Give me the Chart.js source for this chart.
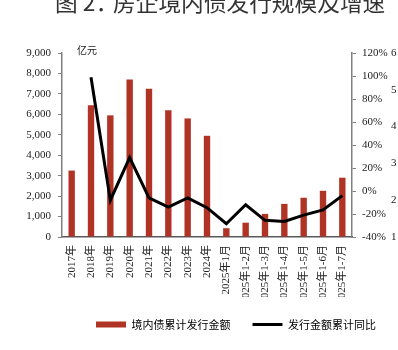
<!DOCTYPE html>
<html>
<head>
<meta charset="utf-8">
<script src="https://cdn.jsdelivr.net/npm/chart.js@4"></script>
<style>
  html, body { margin: 0; padding: 0; background: #fff; }
  #wrap { position: relative; width: 398px; height: 350px; overflow: hidden; }
  #title {
    position: absolute; left: 55px; top: -10px; white-space: nowrap;
    font-family: "Noto Sans CJK SC", sans-serif; font-size: 22.7px; line-height: 24px;
    color: #333;
  }
  #title .colon { margin-right: -5px; }
  #unit {
    position: absolute; left: 77px; top: 44px;
    font-family: "Noto Sans CJK SC", sans-serif; font-size: 10px; line-height: 12px;
    color: #222;
  }
</style>
</head>
<body>
<div id="wrap">
  <canvas id="chart" width="398" height="350"></canvas>
  <div id="title">图 2<span class="colon">：</span>房企境内债发行规模及增速</div>
  <div id="unit">亿元</div>
</div>
<script>
const categories = [
  "2017年", "2018年", "2019年", "2020年", "2021年", "2022年", "2023年", "2024年",
  "2025年1月", "2025年1-2月", "2025年1-3月", "2025年1-4月", "2025年1-5月",
  "2025年1-6月", "2025年1-7月"
];
// 境内债累计发行金额（亿元）
const issueAmount = [3250, 6450, 5950, 7700, 7250, 6200, 5800, 4950, 430, 700, 1130, 1620, 1920, 2260, 2900];
// 发行金额累计同比（%）
const issueYoY = [null, 99, -8, 29, -6, -14, -6, -14.5, -28.5, -12, -25.5, -26.5, -21, -16.5, -4];

const serif = "'Liberation Serif', 'Noto Sans CJK SC', serif";
const axisGray = "#808080";

const chart = new Chart(document.getElementById("chart"), {
  type: "bar",
  data: {
    labels: categories,
    datasets: [
      {
        type: "line",
        label: "发行金额累计同比",
        data: issueYoY,
        yAxisID: "y2",
        borderColor: "#000",
        backgroundColor: "#000",
        borderWidth: 3,
        pointRadius: 0,
        tension: 0,
        order: 0,
      },
      {
        type: "bar",
        label: "境内债累计发行金额",
        data: issueAmount,
        yAxisID: "y",
        backgroundColor: "#b03426",
        categoryPercentage: 1,
        barPercentage: 0.33,
        order: 1,
      },
    ],
  },
  options: {
    responsive: false,
    animation: false,
    layout: { padding: { top: 53, left: 0, right: 0, bottom: 10 } },
    plugins: {
      tooltip: { enabled: false },
      legend: {
        position: "bottom",
        align: "end",
        reverse: true,
        labels: {
          usePointStyle: true,
          pointStyleWidth: 30,
          boxHeight: 6,
          padding: 22,
          color: "#222",
          font: { family: "'Noto Sans CJK SC', sans-serif", size: 11 },
          generateLabels(c) {
            return c.data.datasets.map((ds, i) => ({
              text: ds.label,
              datasetIndex: i,
              fillStyle: ds.type === "line" ? "#000" : "#b03426",
              strokeStyle: ds.type === "line" ? "#000" : "#b03426",
              lineWidth: ds.type === "line" ? 3 : 0,
              pointStyle: ds.type === "line" ? "line" : "rect",
              hidden: false,
            }));
          },
        },
      },
    },
    scales: {
      x: {
        grid: { display: false, drawTicks: false },
        border: { color: "#595959", width: 1.5 },
        ticks: {
          autoSkip: false,
          maxRotation: 90,
          minRotation: 90,
          padding: 8,
          color: "#222",
          font: { family: serif, size: 11 },
        },
        afterFit(scale) { scale.height = 60; },
      },
      y: {
        position: "left",
        min: 0,
        max: 9000,
        grid: { drawOnChartArea: false, tickLength: 4, color: axisGray },
        border: { color: axisGray, width: 1.5 },
        ticks: {
          stepSize: 1000,
          padding: 7,
          color: "#222",
          font: { family: serif, size: 11 },
          callback: (v) => v.toLocaleString("en-US"),
        },
        afterFit(scale) { scale.width = 62; },
      },
      y2: {
        position: "right",
        weight: 0,
        min: -40,
        max: 120,
        grid: { drawOnChartArea: false, tickLength: 4, color: axisGray },
        border: { color: axisGray, width: 1.5 },
        ticks: {
          stepSize: 20,
          padding: 6,
          color: "#222",
          font: { family: serif, size: 11 },
          callback: (v) => v + "%",
        },
        afterFit(scale) { scale.width = 36; },
      },
      y3: {
        position: "right",
        weight: 1,
        min: 1,
        max: 6,
        grid: { display: false, drawTicks: false },
        border: { display: false },
        ticks: {
          stepSize: 1,
          padding: 3,
          color: "#222",
          font: { family: serif, size: 11 },
        },
        afterFit(scale) { scale.width = 10; },
      },
    },
  },
});
</script>
</body>
</html>
